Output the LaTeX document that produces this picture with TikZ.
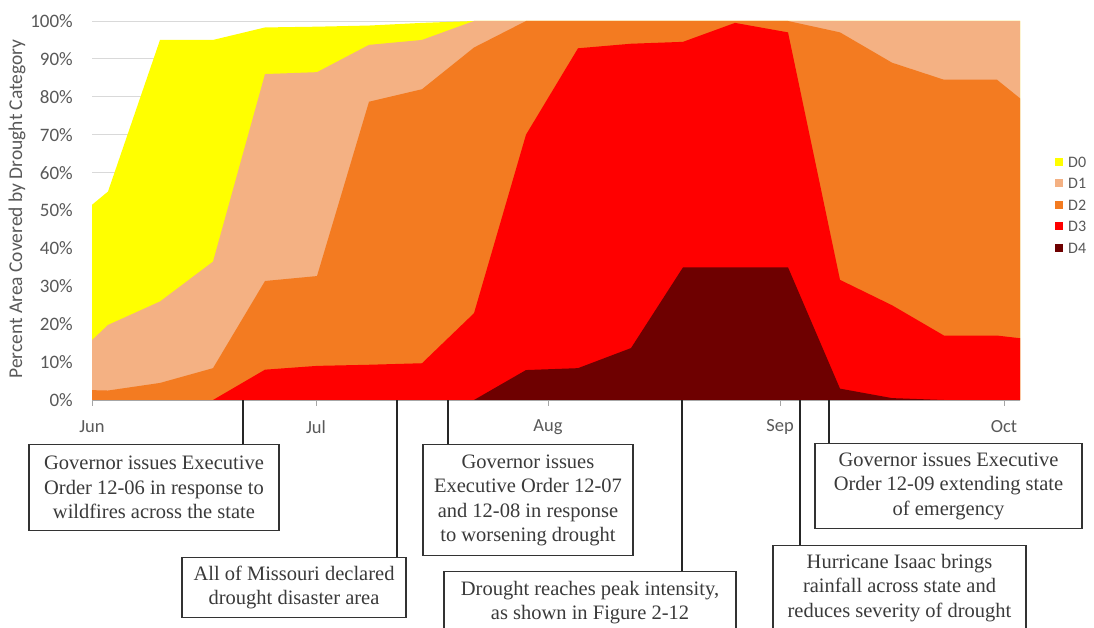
\documentclass[tikz,border=0pt]{standalone}
\usepackage{fontspec}
\setmainfont{Liberation Serif}
\newfontfamily\axisfont{Carlito}
\definecolor{cDzero}{HTML}{FFFF00}
\definecolor{cDone}{HTML}{F4B183}
\definecolor{cDtwo}{HTML}{F37B21}
\definecolor{cDthree}{HTML}{FF0000}
\definecolor{cDfour}{HTML}{6E0000}
\definecolor{gridc}{HTML}{D9D9D9}
\definecolor{axisc}{HTML}{A6A6A6}
\definecolor{axistext}{HTML}{595959}
\definecolor{boxtext}{HTML}{3A3A3A}
\definecolor{boxline}{HTML}{333333}
\definecolor{connc}{HTML}{262626}
\begin{document}
\begin{tikzpicture}[x=1pt,y=-1pt,
  note/.style={draw=boxline, line width=1.4pt, fill=white, text=boxtext, align=center,
    font=\fontsize{20.5}{24.5}\selectfont, inner sep=0pt, anchor=north},
  conn/.style={draw=connc, line width=1.8pt},
  ylab/.style={font=\axisfont\fontsize{19}{19}\selectfont, text=axistext, anchor=east, inner sep=0pt},
  mlab/.style={font=\axisfont\fontsize{18.5}{18.5}\selectfont, text=axistext, inner sep=0pt},
  legsq/.style={minimum size=8pt, inner sep=0pt},
  legtxt/.style={font=\axisfont\fontsize{16}{16}\selectfont, text=axistext, anchor=west, inner sep=0pt},
  gridline/.style={draw=gridc, line width=0.8pt}]
\useasboundingbox (0,0) rectangle (1094,628);
\clip (0,0) rectangle (1094,628);
\fill[white] (0,0) rectangle (1094,628);

\begin{scope}[yshift=-400pt, y=3.79pt]
  \foreach \g in {10,20,...,100} \draw[gridline] (92,\g) -- (1020,\g);
  % D0 (cumulative top)
  \fill[cDzero] (92,0) -- (92,51.5) -- (108,55) -- (160,95) -- (213,95) -- (265,98.3) -- (317,98.5) -- (369,98.8) -- (422,99.5) -- (474,100) -- (1020,100) -- (1020,0) -- cycle;
  % D1
  \fill[cDone] (92,0) -- (92,15.8) -- (108,19.8) -- (160,26) -- (213,36.5) -- (265,86) -- (317,86.5) -- (369,93.7) -- (422,95) -- (474,100) -- (1020,100) -- (1020,0) -- cycle;
  % D2
  \fill[cDtwo] (92,0) -- (92,2.6) -- (108,2.5) -- (160,4.5) -- (213,8.4) -- (265,31.4) -- (317,32.7) -- (369,78.7) -- (422,82) -- (474,93) -- (526,100) -- (788,100) -- (840,97) -- (892,89) -- (944,84.5) -- (997,84.5) -- (1020,79.6) -- (1020,0) -- cycle;
  % D3
  \fill[cDthree] (213,0) -- (265,8) -- (317,9) -- (369,9.3) -- (422,9.7) -- (474,22.9) -- (526,70) -- (578,92.8) -- (631,94) -- (683,94.5) -- (735,99.5) -- (788,97) -- (840,31.7) -- (892,25) -- (944,17) -- (997,17) -- (1020,16.3) -- (1020,0) -- cycle;
  % D4
  \fill[cDfour] (474,0) -- (526,7.9) -- (578,8.4) -- (631,13.7) -- (683,35) -- (735,35) -- (788,35) -- (840,3) -- (892,0.5) -- (944,0) -- cycle;
  \draw[axisc, line width=0.8pt] (92,0) -- (1020,0);
  \foreach \g in {0,10,...,100} \node[ylab] (yl\g) at (73,\g) {\g\%};
\end{scope}

\foreach \mx in {92,316,548,780,1004} \draw[axisc, line width=0.8pt] (\mx,400) -- (\mx,406);

\node[font=\axisfont\fontsize{19.5}{19.5}\selectfont, text=axistext, rotate=90, inner sep=0pt] (ytitle) at (17,209) {Percent Area Covered by Drought Category};

\node[mlab] (mJun) at (92,427) {Jun};
\node[mlab] (mJul) at (316,427) {Jul};
\node[mlab] (mAug) at (548,427) {Aug};
\node[mlab] (mSep) at (780,427) {Sep};
\node[mlab] (mOct) at (1004,427) {Oct};

% legend
\node[legsq, fill=cDzero] (lq0) at (1059,162) {};
\node[legtxt] (lt0) at (1068,162) {D0};
\node[legsq, fill=cDone] (lq1) at (1059,183.5) {};
\node[legtxt] (lt1) at (1068,183.5) {D1};
\node[legsq, fill=cDtwo] (lq2) at (1059,205) {};
\node[legtxt] (lt2) at (1068,205) {D2};
\node[legsq, fill=cDthree] (lq3) at (1059,226.5) {};
\node[legtxt] (lt3) at (1068,226.5) {D3};
\node[legsq, fill=cDfour] (lq4) at (1059,248) {};
\node[legtxt] (lt4) at (1068,248) {D4};

% annotation boxes
\node[note, minimum width=250pt, minimum height=86pt] (b1) at (154,444)
  {Governor issues Executive\\Order 12-06 in response to\\wildfires across the state};
\node[note, minimum width=224pt, minimum height=60pt] (b2) at (294,557)
  {All of Missouri declared\\drought disaster area};
\node[note, minimum width=210pt, minimum height=111pt] (b3) at (528,444)
  {Governor issues\\Executive Order 12-07\\and 12-08 in response\\to worsening drought};
\node[note, minimum width=292pt, minimum height=62pt] (b4) at (590,571)
  {Drought reaches peak intensity,\\as shown in Figure 2-12};
\node[note, minimum width=253pt, minimum height=84pt] (b5) at (899.5,545)
  {Hurricane Isaac brings\\rainfall across state and\\reduces severity of drought};
\node[note, minimum width=267pt, minimum height=85pt] (b6) at (948.5,443)
  {Governor issues Executive\\Order 12-09 extending state\\of emergency};

% connectors
\coordinate (a1) at (243,400);
\coordinate (a2) at (397,400);
\coordinate (a3) at (448,400);
\coordinate (a4) at (682,400);
\coordinate (a5) at (800,400);
\coordinate (a6) at (829,400);
\draw[conn] (a1) -- (a1 |- b1.north);
\draw[conn] (a2) -- (a2 |- b2.north);
\draw[conn] (a3) -- (a3 |- b3.north);
\draw[conn] (a4) -- (a4 |- b4.north);
\draw[conn] (a5) -- (a5 |- b5.north);
\draw[conn] (a6) -- (a6 |- b6.north);
\end{tikzpicture}
\end{document}
